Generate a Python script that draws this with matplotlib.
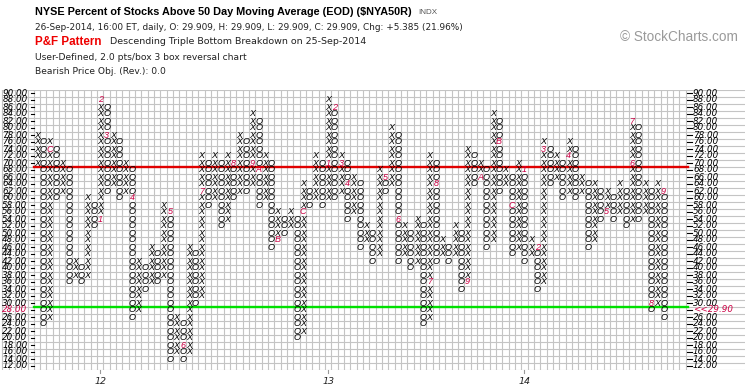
import matplotlib
matplotlib.use('Agg')
import matplotlib.pyplot as plt

# point & figure columns, 2 pts per box, first column is X then they alternate
col_low = [70, 24, 26, 60, 62, 36, 38, 36, 38, 52,
           54, 62, 64, 60, 62, 26, 28, 34, 36, 36,
           38, 14, 16, 14, 16, 30, 32, 58, 60, 52,
           54, 60, 62, 62, 64, 58, 60, 46, 48, 50,
           52, 20, 22, 58, 60, 58, 60, 60, 62, 54,
           56, 46, 48, 42, 44, 62, 64, 42, 44, 40,
           42, 24, 26, 42, 44, 42, 44, 34, 36, 64,
           66, 46, 48, 62, 64, 44, 46, 42, 44, 34,
           36, 64, 66, 60, 62, 60, 62, 46, 48, 54,
           56, 54, 56, 52, 54, 54, 56, 28, 30, 26]
col_high = [78, 76, 76, 74, 70, 68, 42, 40, 60, 58,
            88, 86, 78, 76, 70, 68, 42, 40, 46, 44,
            58, 56, 26, 24, 46, 44, 72, 70, 72, 70,
            72, 70, 78, 76, 84, 82, 72, 70, 56, 54,
            56, 54, 64, 62, 72, 70, 88, 86, 72, 70,
            66, 64, 52, 50, 68, 66, 80, 78, 52, 50,
            54, 52, 72, 70, 48, 46, 52, 50, 74, 72,
            70, 68, 84, 82, 68, 66, 70, 68, 48, 46,
            76, 74, 72, 70, 76, 74, 66, 64, 64, 62,
            62, 60, 64, 62, 82, 80, 64, 62, 64, 62]

# month markers (column, box, month code)
mark_col = [2, 10, 10, 11, 15, 21, 23, 26, 31, 34, 35, 38, 42,
            46, 47, 48, 49, 55, 57, 62, 63, 68, 70, 73, 75,
            77, 79, 80, 84, 90, 94, 94, 97, 99]
mark_box = [74, 54, 88, 78, 60, 56, 18, 62, 70, 70, 68, 48, 56,
            70, 86, 70, 64, 66, 54, 36, 64, 36, 66, 76, 58,
            68, 46, 74, 72, 56, 70, 82, 30, 62]
mark_txt = ['C', '1', '2', '3', '4', '5', '6', '7', '8', '9', 'A', 'B', 'C',
            '1', '2', '3', '4', '5', '6', '7', '8', '9', 'A', 'B', 'C',
            '1', '2', '3', '4', '5', '6', '7', '8', '9']

year_col = [10, 46, 77]
year_txt = ['12', '13', '14']

box_values = list(range(12, 92, 2))
last_price = '<<29.90'

W, H = 745, 391
X0, DX = 37.0, 6.33      # pixel centre of first column, column width
TOP, BOT = 89.5, 369.5   # pixel rows of the grid edges


def fx(px):
    return px / W


def fy(py):
    return 1 - py / H


def main():
    plt.rcParams['font.family'] = ['Liberation Sans', 'DejaVu Sans']
    fig = plt.figure(figsize=(W / 100, H / 100), dpi=100)
    ax = fig.add_axes([0, fy(BOT), 1, (BOT - TOP) / H])
    ax.set_xlim(-X0 / DX, (W - X0) / DX)
    ax.set_ylim(12, 92)
    ax.axis('off')

    # grid
    grid_c = '#c4c4c4'
    right_edge = (688 - X0) / DX
    left_edge = (2 - X0) / DX
    for k in range(-6, 103):
        ax.plot([k + 0.5, k + 0.5], [12, 92], color=grid_c, lw=0.8, zorder=1)
    for v in range(12, 94, 2):
        ax.plot([left_edge, (W - X0) / DX], [v, v], color=grid_c, lw=0.8, zorder=1)

    # 70 / 30 lines
    ax.plot([-0.5, right_edge], [70, 70], color='#e00000', lw=1.7, zorder=2)
    ax.plot([-0.5, right_edge], [30, 30], color='#00e000', lw=1.7, zorder=2)

    marks = {}
    for c, b, t in zip(mark_col, mark_box, mark_txt):
        marks[(c, b)] = t

    for c in range(len(col_low)):
        sym = 'X' if c % 2 == 0 else 'O'
        for b in range(col_low[c], col_high[c] + 1, 2):
            if (c, b) in marks:
                ax.text(c, b + 1, marks[(c, b)], color='#cc0044', fontsize=6.5,
                        style='italic', ha='center', va='center', zorder=3)
            else:
                ax.text(c, b + 1, sym, color='black', fontsize=6.5,
                        style='italic', ha='center', va='center', zorder=3)

    # price scale both sides
    lab_font = 'DejaVu Sans'
    for v in box_values:
        lab = '%.2f' % v
        lcol = '#cc0044' if v == 28 else 'black'
        ax.text(left_edge + 0.05, v + 1, lab, color=lcol, fontsize=6.3,
                family=lab_font, style='italic', ha='left', va='center', zorder=4)
        ax.plot([-0.95, -0.4], [v + 1, v + 1], color='black', lw=0.8, zorder=4)
        ax.plot([right_edge - 0.2, right_edge + 0.6], [v + 1, v + 1],
                color='black', lw=0.8, zorder=4)
        if v == 28:
            ax.text(right_edge + 0.8, v + 1, last_price, color='#cc0044',
                    fontsize=6.3, family=lab_font, style='italic',
                    ha='left', va='center', zorder=4)
        else:
            ax.text(right_edge + 0.8, v + 1, lab, color='black', fontsize=6.3,
                    family=lab_font, style='italic', ha='left', va='center', zorder=4)

    # year ticks
    for c, t in zip(year_col, year_txt):
        ax.plot([c, c], [12, 11.0], color='#999999', lw=0.8, clip_on=False)
        ax.text(c, 8.5, t, fontsize=6.8, family=lab_font, style='italic',
                ha='center', va='center', color='#222222', clip_on=False)

    # header
    fig.text(fx(35), fy(12), 'NYSE Percent of Stocks Above 50 Day Moving Average (EOD) ($NYA50R)',
             fontsize=7.8, fontweight='bold', va='center', ha='left', color='black')
    fig.text(fx(418), fy(12), 'INDX', fontsize=5.8, va='center', ha='left', color='#555555')
    fig.text(fx(35), fy(27), '26-Sep-2014, 16:00 ET, daily, O: 29.909, H: 29.909, L: 29.909, '
             'C: 29.909, Chg: +5.385 (21.96%)', fontsize=6.4, family='DejaVu Sans',
             va='center', ha='left', color='#222222')
    fig.text(fx(35), fy(42), 'P&F Pattern', fontsize=8.4, fontweight='bold',
             va='center', ha='left', color='#ee0000')
    fig.text(fx(110), fy(42), 'Descending Triple Bottom Breakdown on 25-Sep-2014',
             fontsize=6.8, family='DejaVu Sans', va='center', ha='left', color='#222222')
    fig.text(fx(35), fy(58), 'User-Defined, 2.0 pts/box 3 box reversal chart',
             fontsize=6.6, family='DejaVu Sans', va='center', ha='left', color='#222222')
    fig.text(fx(35), fy(72), 'Bearish Price Obj. (Rev.): 0.0',
             fontsize=6.6, family='DejaVu Sans', va='center', ha='left', color='#222222')
    fig.text(fx(620), fy(37), '\u00a9 StockCharts.com', fontsize=9.8,
             va='center', ha='left', color='#9a9a9a')

    fig.savefig('out.png', dpi=100)


if __name__ == "__main__":
    main()
